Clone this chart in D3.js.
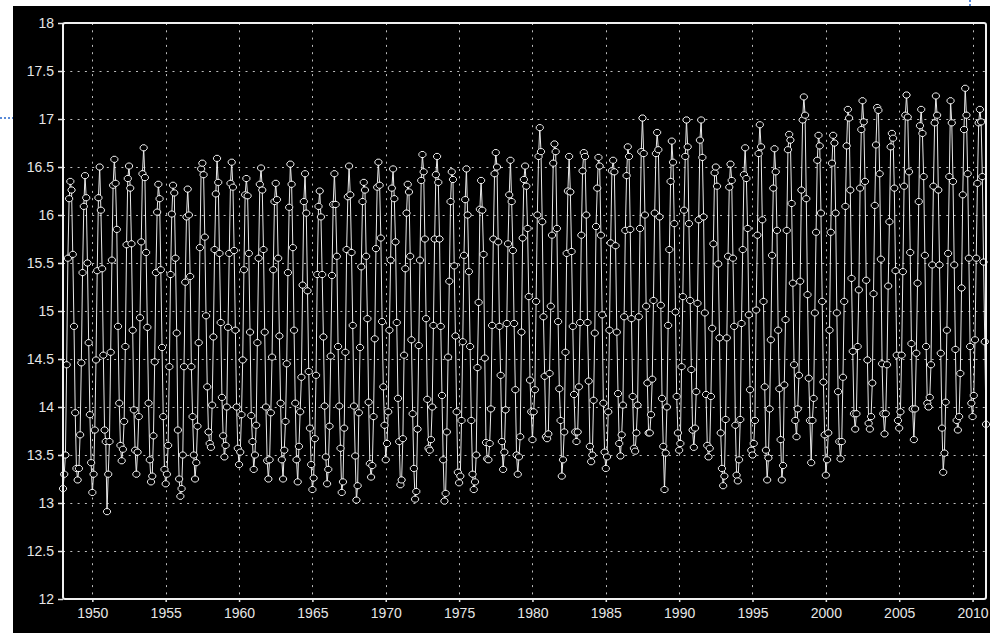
<!DOCTYPE html>
<meta charset="utf-8">
<style>
  body { margin: 0; background: #fff; }
  svg text { font-family: "Liberation Sans", Arial, sans-serif; }
</style>
<script src="https://cdn.jsdelivr.net/npm/d3@7"></script>

<div id="chart"></div>

<script>

// monthly values, one row per year (Jan..Dec)
var years = [1948, 1949, 1950, 1951, 1952, 1953, 1954, 1955, 1956, 1957,
  1958, 1959, 1960, 1961, 1962, 1963, 1964, 1965, 1966, 1967,
  1968, 1969, 1970, 1971, 1972, 1973, 1974, 1975, 1976, 1977,
  1978, 1979, 1980, 1981, 1982, 1983, 1984, 1985, 1986, 1987,
  1988, 1989, 1990, 1991, 1992, 1993, 1994, 1995, 1996, 1997,
  1998, 1999, 2000, 2001, 2002, 2003, 2004, 2005, 2006, 2007,
  2008, 2009, 2010]

var temps = [
  [13.15, 13.30, 13.50, 14.44, 15.55, 16.17, 16.35, 16.26, 15.59, 14.84, 13.94, 13.36],
  [13.24, 13.36, 13.71, 14.46, 15.40, 16.09, 16.41, 16.18, 15.50, 14.67, 13.92, 13.42],
  [13.11, 13.30, 13.76, 14.49, 15.42, 16.18, 16.50, 16.05, 15.44, 14.54, 13.76, 13.64],
  [12.91, 13.30, 13.64, 14.57, 15.53, 16.31, 16.58, 16.33, 15.85, 14.84, 14.04, 13.60],
  [13.44, 13.56, 13.85, 14.63, 15.69, 16.38, 16.51, 16.28, 15.70, 14.80, 13.97, 13.55],
  [13.30, 13.53, 13.90, 14.93, 15.72, 16.43, 16.70, 16.39, 15.61, 14.83, 14.04, 13.45],
  [13.22, 13.28, 13.70, 14.47, 15.40, 16.03, 16.32, 16.17, 15.43, 14.62, 13.90, 13.35],
  [13.20, 13.30, 13.60, 14.42, 15.38, 16.01, 16.31, 16.23, 15.55, 14.77, 13.76, 13.25],
  [13.07, 13.15, 13.50, 14.42, 15.30, 15.98, 16.27, 16.00, 15.36, 14.42, 13.90, 13.50],
  [13.25, 13.42, 13.80, 14.67, 15.66, 16.48, 16.54, 16.42, 15.77, 14.95, 14.21, 13.74],
  [13.62, 13.58, 14.02, 14.73, 15.64, 16.22, 16.59, 16.34, 15.60, 14.88, 14.10, 13.70],
  [13.48, 13.60, 14.00, 14.83, 15.60, 16.33, 16.55, 16.29, 15.63, 14.80, 14.00, 13.57],
  [13.40, 13.53, 13.92, 14.49, 15.43, 16.21, 16.38, 16.20, 15.60, 14.78, 13.91, 13.64],
  [13.35, 13.50, 13.81, 14.67, 15.55, 16.32, 16.49, 16.26, 15.64, 14.78, 14.00, 13.44],
  [13.25, 13.45, 13.94, 14.52, 15.43, 16.14, 16.33, 16.16, 15.55, 14.74, 14.04, 13.45],
  [13.25, 13.55, 13.85, 14.45, 15.40, 16.08, 16.53, 16.32, 15.66, 14.80, 14.04, 13.45],
  [13.22, 13.59, 13.95, 14.31, 15.27, 16.14, 16.43, 16.02, 15.21, 14.37, 13.78, 13.40],
  [13.14, 13.26, 13.67, 14.33, 15.38, 16.09, 16.25, 15.98, 15.38, 14.73, 14.01, 13.48],
  [13.20, 13.35, 13.80, 14.53, 15.37, 16.11, 16.43, 16.11, 15.57, 14.63, 14.01, 13.57],
  [13.11, 13.22, 13.78, 14.57, 15.64, 16.19, 16.51, 16.21, 15.61, 14.85, 14.01, 13.49],
  [13.03, 13.18, 13.94, 14.62, 15.46, 16.14, 16.34, 16.26, 15.57, 14.92, 14.05, 13.41],
  [13.27, 13.39, 13.90, 14.71, 15.65, 16.29, 16.55, 16.31, 15.76, 14.89, 14.21, 13.81],
  [13.45, 13.62, 13.95, 14.80, 15.53, 16.28, 16.48, 16.17, 15.72, 14.88, 14.09, 13.64],
  [13.19, 13.24, 13.67, 14.54, 15.44, 16.02, 16.32, 16.24, 15.57, 14.70, 13.93, 13.36],
  [13.04, 13.12, 13.77, 14.64, 15.53, 16.36, 16.63, 16.45, 15.75, 14.92, 14.08, 13.57],
  [13.55, 13.66, 14.00, 14.85, 15.75, 16.42, 16.61, 16.34, 15.75, 14.84, 14.12, 13.45],
  [13.02, 13.10, 13.74, 14.52, 15.31, 16.14, 16.45, 16.37, 15.47, 14.74, 13.95, 13.32],
  [13.21, 13.28, 13.86, 14.68, 15.58, 16.16, 16.48, 16.00, 15.41, 14.63, 13.86, 13.30],
  [13.14, 13.22, 13.50, 14.41, 15.09, 16.06, 16.36, 16.05, 15.59, 14.51, 13.63, 13.46],
  [13.45, 13.62, 13.98, 14.85, 15.75, 16.43, 16.65, 16.50, 15.72, 14.84, 14.33, 13.64],
  [13.35, 13.53, 13.97, 14.87, 15.70, 16.21, 16.57, 16.14, 15.63, 14.87, 14.18, 13.50],
  [13.30, 13.48, 13.69, 14.78, 15.76, 16.37, 16.51, 16.30, 15.86, 15.15, 14.28, 13.95],
  [13.66, 13.95, 14.18, 15.10, 16.00, 16.61, 16.91, 16.66, 15.93, 14.94, 14.32, 13.69],
  [13.67, 13.72, 14.35, 15.05, 15.79, 16.54, 16.74, 16.66, 15.86, 14.89, 14.19, 13.86],
  [13.28, 13.45, 13.74, 14.57, 15.60, 16.25, 16.61, 16.24, 15.62, 14.84, 14.13, 13.74],
  [13.64, 13.74, 14.21, 14.88, 15.79, 16.46, 16.65, 16.61, 16.00, 14.88, 14.27, 13.59],
  [13.43, 13.50, 14.07, 14.77, 15.88, 16.28, 16.60, 16.51, 15.79, 14.96, 14.04, 13.53],
  [13.36, 13.48, 13.95, 14.80, 15.71, 16.46, 16.57, 16.45, 15.68, 14.78, 14.14, 13.62],
  [13.49, 13.71, 14.02, 14.94, 15.84, 16.41, 16.71, 16.61, 15.85, 14.92, 14.11, 13.57],
  [13.54, 13.73, 14.02, 14.94, 15.86, 16.66, 17.01, 16.64, 16.00, 15.05, 14.25, 13.73],
  [13.73, 13.92, 14.29, 15.11, 16.02, 16.64, 16.86, 16.68, 15.98, 15.06, 14.09, 13.59],
  [13.14, 13.52, 14.00, 14.85, 15.64, 16.35, 16.77, 16.55, 15.91, 14.99, 14.11, 13.73],
  [13.55, 13.62, 14.42, 15.15, 16.05, 16.61, 16.99, 16.71, 15.91, 15.11, 14.39, 13.76],
  [13.58, 13.78, 14.16, 15.08, 15.95, 16.78, 16.99, 16.60, 15.98, 14.98, 14.13, 13.60],
  [13.48, 13.57, 14.11, 14.82, 15.70, 16.44, 16.50, 16.30, 15.49, 14.72, 13.73, 13.36],
  [13.18, 13.28, 13.87, 14.72, 15.57, 16.29, 16.53, 16.36, 15.55, 14.84, 13.81, 13.29],
  [13.23, 13.45, 13.87, 14.87, 15.64, 16.42, 16.70, 16.38, 15.86, 14.96, 14.18, 13.55],
  [13.50, 13.62, 13.86, 15.01, 15.79, 16.64, 16.94, 16.71, 15.95, 15.10, 14.21, 13.55],
  [13.24, 13.47, 13.98, 14.70, 15.58, 16.28, 16.69, 16.45, 15.84, 14.80, 14.19, 13.66],
  [13.24, 13.39, 14.23, 14.91, 15.84, 16.68, 16.84, 16.78, 16.12, 15.29, 14.44, 13.86],
  [13.69, 13.98, 14.33, 15.31, 16.26, 16.99, 17.23, 17.04, 16.17, 15.17, 14.30, 13.86],
  [13.42, 13.86, 14.09, 14.98, 15.82, 16.57, 16.83, 16.72, 16.02, 15.10, 14.26, 13.71],
  [13.29, 13.45, 13.73, 14.80, 15.82, 16.54, 16.83, 16.75, 16.02, 14.98, 14.16, 13.64],
  [13.46, 13.64, 14.31, 15.10, 16.09, 16.72, 17.10, 17.01, 16.26, 15.34, 14.58, 13.93],
  [13.77, 13.93, 14.63, 15.22, 16.28, 16.89, 17.19, 16.97, 16.35, 15.32, 14.49, 13.83],
  [13.77, 13.90, 14.25, 15.18, 16.10, 16.73, 17.12, 17.09, 16.43, 15.54, 14.45, 13.93],
  [13.72, 13.93, 14.44, 15.26, 15.93, 16.71, 16.85, 16.80, 16.28, 15.42, 14.54, 13.86],
  [13.78, 13.95, 14.54, 15.41, 16.30, 17.04, 17.25, 17.02, 16.45, 15.61, 14.66, 13.98],
  [13.66, 13.98, 14.56, 15.29, 16.14, 16.93, 17.10, 16.85, 16.40, 15.58, 14.63, 14.04],
  [14.00, 14.10, 14.44, 15.48, 16.30, 16.96, 17.24, 17.04, 16.26, 15.48, 14.56, 13.78],
  [13.32, 13.52, 14.05, 14.80, 15.60, 16.40, 17.19, 16.96, 16.35, 15.48, 14.60, 13.86],
  [13.76, 13.90, 14.35, 15.24, 16.21, 16.89, 17.32, 17.04, 16.43, 15.55, 14.63, 14.04],
  [13.90, 14.12, 14.70, 15.55, 16.33, 16.96, 17.10, 16.97, 16.40, 15.51, 14.68, 13.82]
]

var xTicks = [1950, 1955, 1960, 1965, 1970, 1975, 1980, 1985, 1990, 1995, 2000, 2005, 2010]
var yTicks = [12, 12.5, 13, 13.5, 14, 14.5, 15, 15.5, 16, 16.5, 17, 17.5, 18]

var w = 990
var h = 633

var plot = {left: 63, top: 23, right: 986, bottom: 599}

var svg = d3.select("#chart")
  .append("svg")
    .attr("width", w)
    .attr("height", h)

// black panel of the screenshot
svg.append("rect")
  .attr("x", 13)
  .attr("y", 6)
  .attr("width", w - 13)
  .attr("height", h - 6)
  .attr("fill", "#000")

// little blue selection marks at the edges
svg.append("line")
  .attr("x1", 0).attr("x2", 13).attr("y1", 118).attr("y2", 118)
  .attr("stroke", "#5a8bd8").attr("stroke-width", 2)
  .attr("stroke-dasharray", "2,2")
svg.append("line")
  .attr("x1", 970).attr("x2", 970).attr("y1", 0).attr("y2", 6)
  .attr("stroke", "#5a8bd8").attr("stroke-width", 2)
  .attr("stroke-dasharray", "2,2")

var data = []
years.forEach(function(yr, i) {
  temps[i].forEach(function(v, m) {
    data.push({t: yr + m / 12, v: v})
  })
})

var xScale = d3.scaleLinear()
  .domain([years[0], years[years.length - 1] + 11 / 12])
  .range([plot.left, plot.right])

var yScale = d3.scaleLinear()
  .domain([12, 18])
  .range([plot.bottom, plot.top])

////
// dotted grid
svg.append("g")
  .selectAll("line")
  .data(yTicks.slice(1, -1))
  .enter()
  .append("line")
    .attr("x1", plot.left)
    .attr("x2", plot.right)
    .attr("y1", d => Math.round(yScale(d)) + 0.5)
    .attr("y2", d => Math.round(yScale(d)) + 0.5)
    .attr("stroke", "#bdbdbd")
    .attr("stroke-dasharray", "2,5.3")

svg.append("g")
  .selectAll("line")
  .data(xTicks)
  .enter()
  .append("line")
    .attr("x1", d => Math.round(xScale(d)) + 0.5)
    .attr("x2", d => Math.round(xScale(d)) + 0.5)
    .attr("y1", plot.top)
    .attr("y2", plot.bottom)
    .attr("stroke", "#bdbdbd")
    .attr("stroke-dasharray", "2,5.3")

////
// axes
var yAxis = svg.append("g")
  .attr("transform", `translate(${plot.left},0)`)
  .call(d3.axisLeft(yScale)
    .tickValues(yTicks)
    .tickFormat(d => String(d))
    .tickSize(5)
    .tickPadding(4))

var xAxis = svg.append("g")
  .attr("transform", `translate(0,${plot.bottom})`)
  .call(d3.axisBottom(xScale)
    .tickValues(xTicks)
    .tickFormat(d => String(d))
    .tickSize(3)
    .tickPadding(6))

svg.selectAll(".domain").remove()
svg.selectAll(".tick line").attr("stroke", "#e6e6e6").attr("stroke-width", 1.5)
svg.selectAll(".tick text")
  .attr("fill", "#e6e6e6")
  .attr("font-size", "14px")
  .attr("font-family", "Liberation Sans, Arial, sans-serif")

////
// the series
var line = d3.line()
  .x(d => xScale(d.t))
  .y(d => yScale(d.v))

svg.append("path")
  .datum(data)
  .attr("fill", "none")
  .attr("stroke", "#e8e8e8")
  .attr("stroke-width", 1)
  .attr("d", line)

var marker = "M-1.5,-3L1.5,-3L3.5,-1L3.5,1L1.5,3L-1.5,3L-3.5,1L-3.5,-1Z"

svg.append("g")
  .selectAll("path")
  .data(data)
  .enter()
  .append("path")
    .attr("d", marker)
    .attr("transform", d => `translate(${xScale(d.t)},${yScale(d.v)})`)
    .attr("fill", "#000")
    .attr("stroke", "#f0f0f0")
    .attr("stroke-width", 1)

// frame
svg.append("rect")
  .attr("x", plot.left)
  .attr("y", plot.top)
  .attr("width", plot.right - plot.left)
  .attr("height", plot.bottom - plot.top)
  .attr("fill", "none")
  .attr("stroke", "#f0f0f0")
  .attr("stroke-width", 2)
  .attr("rx", 2)

</script>
